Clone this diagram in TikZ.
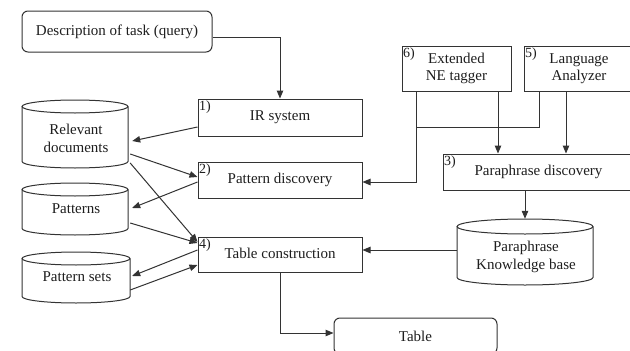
\documentclass[tikz,border=0pt]{standalone}
\usepackage{fontspec}
\setmainfont{Liberation Serif}
\usetikzlibrary{arrows.meta,calc}
\definecolor{lc}{HTML}{333333}
\definecolor{tc}{HTML}{1E1E1E}
\tikzset{
  ln/.style={draw=lc, line width=1pt},
  arr/.style={ln, -{Triangle[length=8pt,width=6.5pt]}},
  boxnode/.style={ln, rectangle, inner sep=0pt, text=tc, align=center,
    font=\fontsize{15}{17.5}\selectfont},
  rbox/.style={boxnode, rounded corners=6pt},
  txt/.style={text=tc, align=center, inner sep=0pt, font=\fontsize{15}{17.5}\selectfont},
  numlab/.style={text=tc, inner sep=0pt, anchor=north west, font=\fontsize{14}{16}\selectfont},
  geo/.style={inner sep=0pt, draw=none, rectangle}
}
% #1 name, #2 cx, #3 ytop, #4 ybot, #5 half width, #6 ry, #7 text y, #8 text
\newcommand\mycyl[8]{%
  \draw[ln, fill=white] (#2-#5,#3+#6) -- (#2-#5,#4-#6)
     arc[start angle=180, end angle=360, x radius=#5pt, y radius=#6pt]
     -- (#2+#5,#3+#6);
  \draw[ln] (#2,#3+#6) ellipse[x radius=#5pt, y radius=#6pt];
  \node[geo, minimum width=2*#5pt, minimum height=#4pt-#3pt] (#1) at (#2,{(#3+#4)/2}) {};
  \node[txt] (#1-t) at (#2+1,#7) {#8};
}
\begin{document}
\begin{tikzpicture}[x=1pt, y=-1pt]
\clip (0,0) rectangle (630,351);
\fill[white] (0,0) rectangle (630,351);

% boxes
\node[rbox, minimum width=190pt, minimum height=41pt] (desc) at (117,31.5) {Description of task (query)};
\node[boxnode, minimum width=164pt, minimum height=37pt] (ir) at (280,117.5) {\raisebox{1pt}{IR system}};
\node[boxnode, minimum width=164pt, minimum height=36pt] (pd) at (280,180) {\raisebox{2pt}{Pattern discovery}};
\node[boxnode, minimum width=164pt, minimum height=35pt] (tcn) at (280,254.5) {\raisebox{2pt}{Table construction}};
\node[boxnode, minimum width=109pt, minimum height=45pt] (ne) at (456.5,68.5) {Extended\\NE tagger};
\node[boxnode, minimum width=110pt, minimum height=45pt] (la) at (579,68.5) {Language\\Analyzer};
\node[boxnode, minimum width=191pt, minimum height=36pt] (prd) at (538.5,172) {\raisebox{1pt}{Paraphrase discovery}};
\node[rbox, minimum width=163pt, minimum height=36pt] (tab) at (415.5,336) {Table};

% labels
\node[numlab] (l1) at ([xshift=1.5pt,yshift=-2.5pt]ir.north west) {1)};
\node[numlab] (l2) at ([xshift=1.5pt,yshift=-2.5pt]pd.north west) {2)};
\node[numlab] (l3) at ([xshift=1.5pt,yshift=-2.5pt]prd.north west) {3)};
\node[numlab] (l4) at ([xshift=1.5pt,yshift=-2.5pt]tcn.north west) {4)};
\node[numlab] (l5) at ([xshift=1.5pt,yshift=-2.5pt]la.north west) {5)};
\node[numlab] (l6) at ([xshift=1.5pt,yshift=-2.5pt]ne.north west) {6)};

% cylinders
\mycyl{rd}{75}{100}{168}{53}{6.5}{138.5}{Relevant\\documents}
\mycyl{pat}{75}{183}{235}{53}{6.5}{209}{Patterns}
\mycyl{ps}{76}{252}{303}{54}{6.5}{277}{Pattern sets}
\mycyl{kb}{525}{219}{285}{68}{7.5}{257}{Paraphrase\\Knowledge base}

% connectors
\draw[arr] ([yshift=-5.5pt]desc.east) -| (ir.north);
\draw[arr] ([yshift=-9.5pt]ir.west) -- ([xshift=4pt,yshift=-7pt]rd.east);
\draw[arr] ([xshift=2pt,yshift=-20pt]rd.east) -- ([yshift=3pt]pd.west);
\draw[arr] ([xshift=2pt,yshift=-29pt]rd.east) -- ([yshift=12.5pt]tcn.west);
\draw[arr] ([yshift=-2pt]pd.west) -- ([xshift=4pt,yshift=1pt]pat.east);
\draw[arr] ([xshift=2pt,yshift=-14pt]pat.east) -- ([yshift=11.5pt]tcn.west);
\draw[arr] ([yshift=4.5pt]tcn.west) -- ([xshift=2pt,yshift=1.5pt]ps.east);
\draw[arr] ([yshift=-12.5pt]ps.east) -- ([yshift=-10.5pt]tcn.west);
\draw[arr] (tcn.south) |- ([yshift=3pt]tab.west);

\coordinate (j) at (416,127);
\draw[arr] ([xshift=-40.5pt]ne.south) |- ([yshift=-2pt]pd.east);
\draw[ln] ([xshift=-40pt]la.south) |- (j);
\draw[arr] ([xshift=41.5pt]ne.south) -- ([xshift=41.5pt]ne.south |- prd.north);
\draw[arr] ([xshift=-13pt]la.south) -- ([xshift=-13pt]la.south |- prd.north);
\draw[arr] (kb.north |- prd.south) -- (kb.north);
\draw[arr] ([yshift=2pt]kb.west) -- ([yshift=2pt]kb.west -| tcn.east);
\end{tikzpicture}
\end{document}
